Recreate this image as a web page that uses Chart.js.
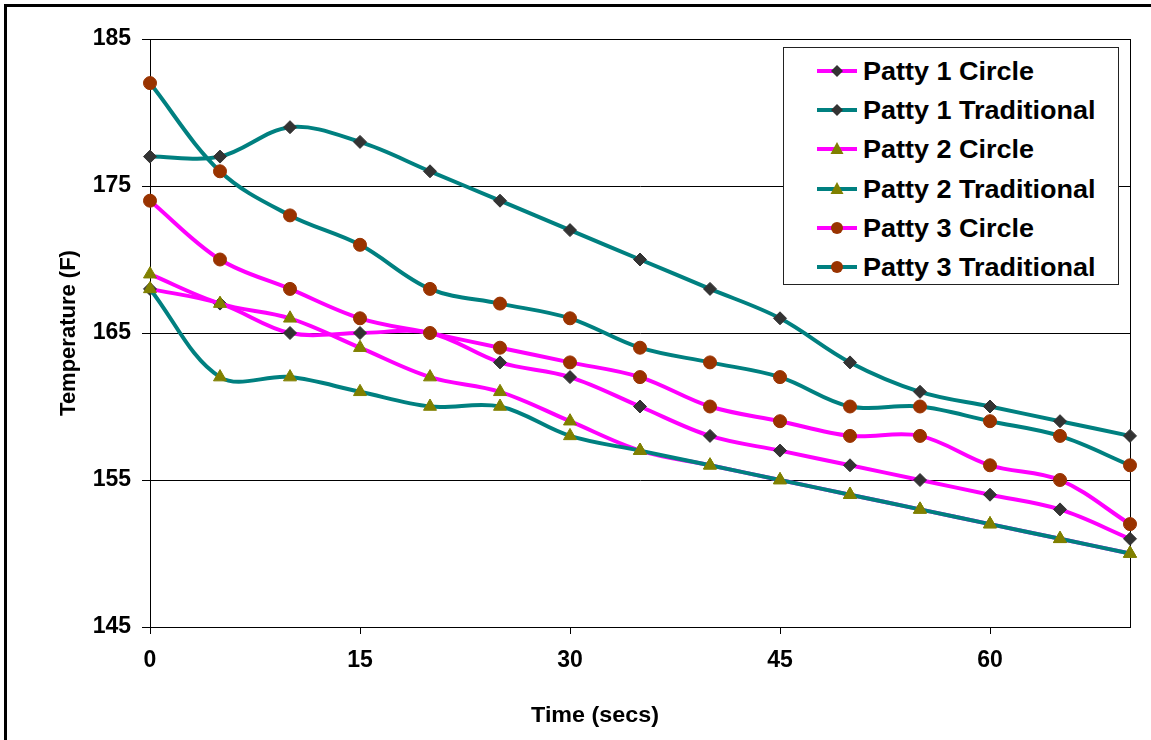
<!DOCTYPE html>
<html><head><meta charset="utf-8">
<script src="https://cdn.jsdelivr.net/npm/chart.js@4.4.0/dist/chart.umd.min.js"></script>
<style>
html,body{margin:0;padding:0;background:#fff;overflow:hidden;}
#wrap{position:relative;width:1151px;height:740px;overflow:hidden;}
#frame{position:absolute;left:4px;top:4px;width:1300px;height:900px;border-left:3px solid #000;border-top:3px solid #000;pointer-events:none;}
#c{position:absolute;left:0;top:0;}
#legend{position:absolute;left:783px;top:47px;width:336px;height:238px;border:1px solid #222;background:#fff;box-sizing:border-box;font-family:"Liberation Sans",Arial,sans-serif;font-weight:bold;font-size:25px;color:#000;}
.row{position:absolute;left:0;height:40px;width:330px;}
.row svg{position:absolute;left:31px;top:0;}
.row span{position:absolute;left:79px;top:5px;line-height:30px;white-space:nowrap;transform:scaleX(1.08);transform-origin:0 50%;}
#xtitle{position:absolute;left:495px;width:200px;top:701px;text-align:center;font-family:"Liberation Sans",Arial,sans-serif;font-weight:bold;font-size:22px;line-height:28px;color:#000;transform:scaleX(1.06);}
</style>
</head><body>
<div id="wrap">
<canvas id="c" width="1151" height="740"></canvas>
<div id="frame"></div>
<div id="legend"></div>
<div id="xtitle"></div>
</div>
<script>
// ---- data ----
const timeSecs = [0, 5, 10, 15, 20, 25, 30, 35, 40, 45, 50, 55, 60, 65, 70];
const patty1Circle      = [168, 167, 165, 165, 165, 163, 162, 160, 158, 157, 156, 155, 154, 153, 151];
const patty1Traditional = [177, 177, 179, 178, 176, 174, 172, 170, 168, 166, 163, 161, 160, 159, 158];
const patty2Circle      = [169, 167, 166, 164, 162, 161, 159, 157, 156, 155, 154, 153, 152, 151, 150];
const patty2Traditional = [168, 162, 162, 161, 160, 160, 158, 157, 156, 155, 154, 153, 152, 151, 150];
const patty3Circle      = [174, 170, 168, 166, 165, 164, 163, 162, 160, 159, 158, 158, 156, 155, 152];
const patty3Traditional = [182, 176, 173, 171, 168, 167, 166, 164, 163, 162, 160, 160, 159, 158, 156];
const seriesNames = ['Patty 1 Circle', 'Patty 1 Traditional', 'Patty 2 Circle', 'Patty 2 Traditional', 'Patty 3 Circle', 'Patty 3 Traditional'];
const xTickValues = [0, 15, 30, 45, 60];
const yTickValues = [145, 155, 165, 175, 185];
const xTitle = 'Time (secs)';
const yTitle = 'Temperature (F)';

// ---- styles ----
const MAGENTA = '#FF00FF', TEAL = '#008080';
const DIAMOND = {style: 'rectRot', color: '#333333', radius: 6.5};
const TRI = {style: 'triangle', color: '#808000', radius: 7.5};
const CIRC = {style: 'circle', color: '#993300', radius: 6.5};
const seriesValues = [patty1Circle, patty1Traditional, patty2Circle, patty2Traditional, patty3Circle, patty3Traditional];
const seriesLine = [MAGENTA, TEAL, MAGENTA, TEAL, MAGENTA, TEAL];
const seriesMarker = [DIAMOND, DIAMOND, TRI, TRI, CIRC, CIRC];

const FONT = '"Liberation Sans", Arial, sans-serif';

const datasets = seriesNames.map((name, i) => ({
  label: name,
  data: timeSecs.map((t, j) => ({x: t, y: seriesValues[i][j]})),
  borderColor: seriesLine[i],
  borderWidth: 4,
  backgroundColor: seriesMarker[i].color,
  pointStyle: seriesMarker[i].style,
  pointRadius: seriesMarker[i].radius,
  pointBackgroundColor: seriesMarker[i].color,
  pointBorderColor: seriesMarker[i].color,
  pointBorderWidth: 1,
  tension: 0.35,
  fill: false,
  clip: false,
  order: seriesNames.length - i
}));

const plotBorder = {
  id: 'plotBorder',
  beforeDatasetsDraw(chart) {
    const a = chart.chartArea, ctx = chart.ctx;
    ctx.save();
    ctx.strokeStyle = '#000';
    ctx.lineWidth = 1;
    ctx.strokeRect(Math.round(a.left) + 0.5, Math.round(a.top) + 0.5, Math.round(a.right - a.left), Math.round(a.bottom - a.top));
    ctx.restore();
  }
};

const chart = new Chart(document.getElementById('c'), {
  type: 'line',
  data: {datasets},
  plugins: [plotBorder],
  options: {
    responsive: false,
    animation: false,
    devicePixelRatio: 1,
    layout: {padding: {left: 0, right: 21, top: 39, bottom: 0}},
    plugins: {legend: {display: false}, tooltip: {enabled: false}},
    scales: {
      x: {
        type: 'linear', min: 0, max: 70,
        afterFit(s) { s.height = 113; },
        afterBuildTicks(s) { s.ticks = xTickValues.map(v => ({value: v})); },
        ticks: {font: {family: FONT, size: 23, weight: 'bold'}, color: '#000', padding: 13, maxRotation: 0},
        grid: {display: true, drawOnChartArea: false, drawTicks: true, tickLength: 7, color: '#000'},
        border: {display: true, color: '#000', width: 1},
        title: {display: false, text: xTitle}
      },
      y: {
        min: 145, max: 185,
        afterFit(s) { s.width = 150; },
        afterBuildTicks(s) { s.ticks = yTickValues.map(v => ({value: v})); },
        ticks: {font: {family: FONT, size: 23, weight: 'bold'}, color: '#000', padding: 11},
        grid: {color: '#000', lineWidth: 1, tickLength: 8},
        border: {display: true, color: '#000', width: 1},
        title: {display: true, text: yTitle, color: '#000', font: {family: FONT, size: 22, weight: 'bold'}, padding: {top: 56, bottom: 0}}
      }
    }
  }
});

document.getElementById('xtitle').textContent = xTitle;

// ---- HTML legend built from the datasets ----
const legend = document.getElementById('legend');
const NS = 'http://www.w3.org/2000/svg';
datasets.forEach((ds, i) => {
  const row = document.createElement('div');
  row.className = 'row';
  row.style.top = (3 + i * 39.2) + 'px';
  const svg = document.createElementNS(NS, 'svg');
  svg.setAttribute('width', '44'); svg.setAttribute('height', '40');
  const line = document.createElementNS(NS, 'line');
  line.setAttribute('x1', '2'); line.setAttribute('x2', '42');
  line.setAttribute('y1', '20'); line.setAttribute('y2', '20');
  line.setAttribute('stroke', ds.borderColor); line.setAttribute('stroke-width', '4');
  svg.appendChild(line);
  const cx = 22, cy = 20;
  let m;
  if (ds.pointStyle === 'circle') {
    m = document.createElementNS(NS, 'circle');
    m.setAttribute('cx', cx); m.setAttribute('cy', cy); m.setAttribute('r', 6);
  } else if (ds.pointStyle === 'triangle') {
    m = document.createElementNS(NS, 'polygon');
    m.setAttribute('points', `${cx},${cy-7} ${cx+6.5},${cy+5} ${cx-6.5},${cy+5}`);
  } else {
    m = document.createElementNS(NS, 'polygon');
    m.setAttribute('points', `${cx},${cy-6} ${cx+6},${cy} ${cx},${cy+6} ${cx-6},${cy}`);
  }
  m.setAttribute('fill', ds.pointBackgroundColor);
  svg.appendChild(m);
  row.appendChild(svg);
  const sp = document.createElement('span');
  sp.textContent = ds.label;
  row.appendChild(sp);
  legend.appendChild(row);
});
</script>
</body></html>
